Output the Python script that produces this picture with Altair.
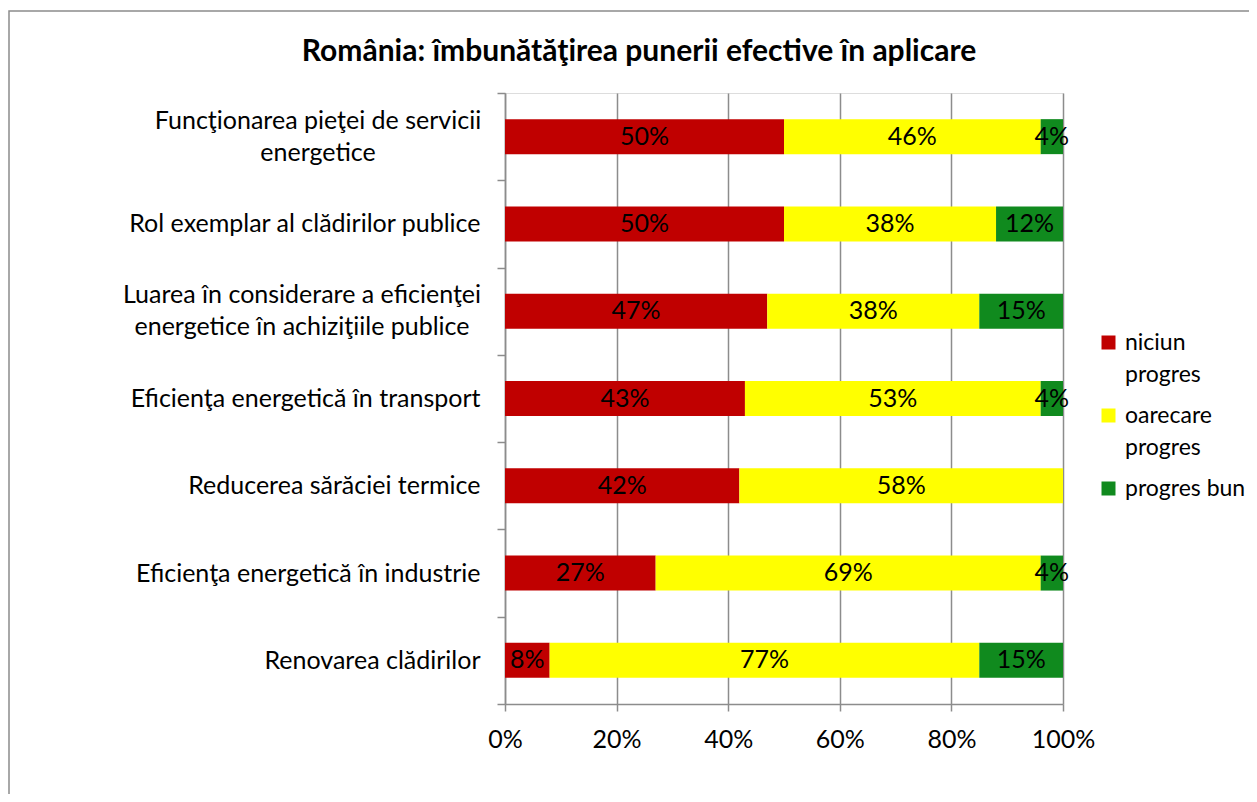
import altair as alt
import pandas as pd

title_text = "România: îmbunătăţirea punerii efective în aplicare"
categories = [
    "Funcţionarea pieţei de servicii energetice",
    "Rol exemplar al clădirilor publice",
    "Luarea în considerare a eficienţei energetice în achiziţiile publice",
    "Eficienţa energetică în  transport",
    "Reducerea sărăciei termice",
    "Eficienţa energetică în industrie",
    "Renovarea clădirilor",
]
wrapped = {
    categories[0]: "Funcţionarea pieţei de servicii\nenergetice",
    categories[2]: "Luarea în considerare a eficienţei\nenergetice în achiziţiile publice",
}
series = ["niciun progres", "oarecare progres", "progres bun"]
colors = ["#C00000", "#FFFF00", "#108A1E"]
niciun = [50, 50, 47, 43, 42, 27, 8]
oarecare = [46, 38, 38, 53, 58, 69, 77]
bun = [4, 12, 15, 4, 0, 4, 15]

rows = []
for i, c in enumerate(categories):
    for j, (s, vals) in enumerate(zip(series, [niciun, oarecare, bun])):
        rows.append({"category": c, "series": s, "order": j, "value": vals[i]})
df = pd.DataFrame(rows)

FONT = "Lato"
GRAY = "#8C8C8C"

wrapped_test = " || ".join(f"datum.value == '{k}'" for k in wrapped)
label_expr = f"({wrapped_test}) ? '' : datum.label"

yscale = alt.Scale(domain=categories, paddingInner=0, paddingOuter=0)

base = alt.Chart(df).transform_stack(
    stack="value", groupby=["category"], as_=["v0", "v1"],
    sort=[alt.SortField("order", order="ascending")]
).transform_calculate(mid="(datum.v0 + datum.v1) / 2", label="datum.value + '%'")

y_enc = alt.Y(
    "category:N", sort=categories, title=None, scale=yscale,
    axis=alt.Axis(
        labelExpr=label_expr, tickBand="extent", grid=False,
        domainColor=GRAY, tickColor=GRAY, tickSize=8, domainWidth=1.5, tickWidth=1.5,
        labelFont=FONT, labelFontSize=25, labelColor="#000000", labelLimit=600,
        labelPadding=17,
    ),
)

x_enc_axis = alt.Axis(
    values=[0, 20, 40, 60, 80, 100], labelExpr="datum.value + '%'", labelFlush=False,
    grid=True, gridColor=GRAY, gridWidth=1.5, domainColor=GRAY, domainWidth=1.5,
    tickColor=GRAY, tickSize=7, tickWidth=1.5,
    labelFont=FONT, labelFontSize=25, labelColor="#000000", labelPadding=16,
)

bars = base.mark_bar(height=35).encode(
    x=alt.X("v0:Q", scale=alt.Scale(domain=[0, 100], nice=False), axis=x_enc_axis, title=None),
    x2="v1:Q",
    y=y_enc,
    color=alt.Color(
        "series:N", scale=alt.Scale(domain=series, range=colors), title=None,
        legend=alt.Legend(
            orient="none", legendX=592, legendY=238, symbolType="square", symbolSize=196,
            symbolStrokeWidth=0, labelFont=FONT, labelFontSize=23, labelColor="#000000",
            labelExpr="datum.label == 'progres bun' ? datum.label : split(datum.label, ' ')",
            rowPadding=17, labelOffset=5, padding=0,
        ),
    ),
)

texts = base.transform_filter("datum.value > 0").mark_text(
    font=FONT, fontSize=25, color="#000000"
).encode(
    x="mid:Q",
    y=alt.Y("category:N", sort=categories, scale=yscale),
    text=alt.Text("label:N"),
)

wrap_df = pd.DataFrame({"category": list(wrapped.keys()), "lbl": list(wrapped.values())})

def wrapped_label(cat, xpos):
    return alt.Chart(wrap_df).transform_filter(
        alt.datum.category == cat
    ).mark_text(
        font=FONT, fontSize=25, color="#000000", align="center", baseline="middle",
        lineBreak="\n", lineHeight=32, dy=-16,
    ).encode(
        x=alt.value(xpos),
        y=alt.Y("category:N", sort=categories, scale=yscale),
        text="lbl:N",
    )

lab1 = wrapped_label(categories[0], -187)
lab2 = wrapped_label(categories[2], -203)

title = alt.Chart(pd.DataFrame({"t": [title_text]})).mark_text(
    font=FONT, fontSize=30, fontWeight="bold", color="#000000", align="center", baseline="middle"
).encode(x=alt.value(134), y=alt.value(-41), text="t:N")

frame = alt.Chart(pd.DataFrame({"a": [0]})).mark_rect(
    fill="transparent", stroke=GRAY, strokeWidth=1.5
).encode(
    x=alt.value(-496), x2=alt.value(900), y=alt.value(-82), y2=alt.value(900)
)

chart = alt.layer(frame, bars, texts, lab1, lab2, title).properties(
    width=558, height=611,
    padding={"left": 497, "top": 85, "right": 186, "bottom": 90},
    autosize=alt.AutoSizeParams(type="none"),
).configure_view(stroke=None).configure(style={"guide-label": {"lineHeight": 32}})

chart.save("out.html", embed_options={"renderer": "svg", "actions": False})
